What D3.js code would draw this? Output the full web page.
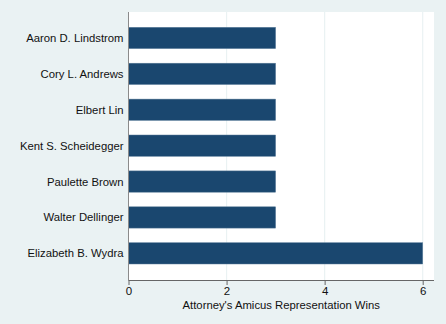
<!DOCTYPE html>
<html>
<head>
<meta charset="utf-8">
<script src="https://cdn.jsdelivr.net/npm/d3@7"></script>
<style>
  html, body { margin: 0; padding: 0; background: #eaf2f3; }
  svg { display: block; }
  text { font-family: "Liberation Sans", Arial, sans-serif; fill: #111; }
</style>
</head>
<body>
<svg id="chart" width="446" height="324"></svg>
<script>
// Attorneys and their amicus representation wins
const attorneys = [
  "Aaron D. Lindstrom",
  "Cory L. Andrews",
  "Elbert Lin",
  "Kent S. Scheidegger",
  "Paulette Brown",
  "Walter Dellinger",
  "Elizabeth B. Wydra"
];
const wins = [3, 3, 3, 3, 3, 3, 6];
const xTicks = [0, 2, 4, 6];
const xTitle = "Attorney's Amicus Representation Wins";

const W = 446, H = 324;
const plot = { left: 128.5, right: 434, top: 12, bottom: 280 };

const svg = d3.select("#chart");

svg.append("rect").attr("width", W).attr("height", H).attr("fill", "#eaf2f3");
svg.append("rect")
  .attr("x", plot.left).attr("y", plot.top)
  .attr("width", plot.right - plot.left).attr("height", plot.bottom - plot.top)
  .attr("fill", "#ffffff");

const x = d3.scaleLinear().domain([0, 6]).range([plot.left, 422.7]);
const y = d3.scaleBand()
  .domain(attorneys)
  .range([plot.top + 8, plot.bottom - 8.7])
  .paddingInner(0.407)
  .paddingOuter(0.2035);

// vertical gridlines
svg.append("g").selectAll("line")
  .data(xTicks.filter(t => t > 0))
  .join("line")
  .attr("x1", d => x(d)).attr("x2", d => x(d))
  .attr("y1", plot.top).attr("y2", plot.bottom)
  .attr("stroke", "#eaf2f3").attr("stroke-width", 1.2);

// bars
svg.append("g").selectAll("rect")
  .data(attorneys.map((a, i) => ({ a, v: wins[i] })))
  .join("rect")
  .attr("x", x(0))
  .attr("y", d => y(d.a))
  .attr("width", d => x(d.v) - x(0))
  .attr("height", y.bandwidth())
  .attr("fill", "#1a476f")
  .attr("stroke", "#5a7c99").attr("stroke-width", 0.5);

// category labels
svg.append("g").selectAll("text")
  .data(attorneys)
  .join("text")
  .attr("x", 123.5)
  .attr("y", d => y(d) + y.bandwidth() / 2)
  .attr("dy", "0.35em")
  .attr("text-anchor", "end")
  .attr("font-size", 11.3)
  .text(d => d);

// left axis line
svg.append("line")
  .attr("x1", plot.left).attr("x2", plot.left)
  .attr("y1", plot.top).attr("y2", plot.bottom)
  .attr("stroke", "#8a8a8a").attr("stroke-width", 1);

// bottom axis
const xAxis = svg.append("g")
  .attr("transform", `translate(0,${plot.bottom})`)
  .call(d3.axisBottom(x).tickValues(xTicks).tickFormat(d3.format("d"))
    .tickSize(5).tickSizeOuter(0).tickPadding(2));
xAxis.select(".domain")
  .attr("d", `M${plot.left},0.5H${plot.right}`)
  .attr("stroke", "#666");
xAxis.selectAll(".tick line").attr("stroke", "#666");
xAxis.selectAll(".tick text")
  .attr("font-family", "Liberation Sans, Arial, sans-serif")
  .attr("font-size", 11.5)
  .attr("fill", "#111");

svg.append("text")
  .attr("x", (plot.left + plot.right) / 2)
  .attr("y", 308.5)
  .attr("text-anchor", "middle")
  .attr("font-size", 11.3)
  .text(xTitle);
</script>
</body>
</html>
